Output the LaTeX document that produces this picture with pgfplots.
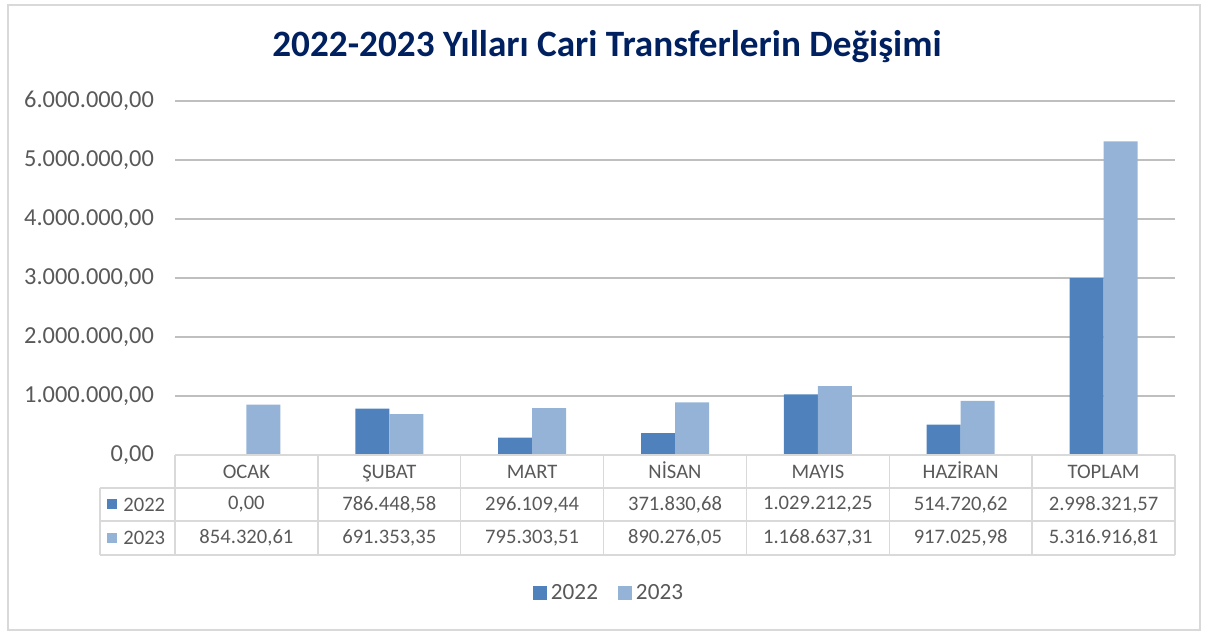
\documentclass[border=0pt]{standalone}
\usepackage{pgfplots}
\pgfplotsset{compat=1.18}
\usepackage{fontspec}
\setmainfont{Carlito}
\definecolor{cA}{HTML}{4F81BD}
\definecolor{cB}{HTML}{95B3D7}
\definecolor{grid}{HTML}{D9D9D9}
\definecolor{txt}{HTML}{595959}
\definecolor{ttl}{HTML}{002060}
\begin{document}
\begin{tikzpicture}
\begin{axis}[
  scale only axis, width=500pt, height=177pt,
  ymin=0, ymax=6000000, ytick={0,1000000,...,6000000},
  xmin=-0.5, xmax=6.5,
  ybar=0pt, bar width=17pt,
  axis line style={draw=none},
  major tick length=0pt,
  tick style={draw=none},
  xmajorgrids=false,
  ymajorgrids=true, grid style={grid, line width=0.7pt},
  clip=false,
  scaled y ticks=false,
  /pgf/number format/assume math mode=true,
  yticklabel={\pgfmathprintnumber[fixed, fixed zerofill, precision=2, use comma, 1000 sep={.}]{\tick}},
  yticklabel style={font=\fontsize{12.2}{14}\selectfont, text=txt, xshift=-7pt},
  xtick={0,...,6},
  xticklabels={OCAK,ŞUBAT,MART,NİSAN,MAYIS,HAZİRAN,TOPLAM},
  xticklabel style={font=\fontsize{10.3}{12}\selectfont, text=txt, anchor=base, text height=7pt, text depth=0pt, inner sep=0pt, yshift=-12pt},
  legend style={at={(rel axis cs:0.435,0)}, yshift=-69pt, anchor=center, draw=none, legend columns=2,
    font=\fontsize{11.6}{13}\selectfont, text=txt, /tikz/every even column/.append style={column sep=8pt}},
  legend image code/.code={\fill[#1] (0pt,-3.5pt) rectangle (7pt,3.5pt);},
]
\addplot[fill=cA, draw=none] coordinates {(0,0) (1,786448.58) (2,296109.44) (3,371830.68) (4,1029212.25) (5,514720.62) (6,2998321.57)};
\addplot[fill=cB, draw=none] coordinates {(0,854320.61) (1,691353.35) (2,795303.51) (3,890276.05) (4,1168637.31) (5,917025.98) (6,5316916.81)};
\legend{2022,2023}
% table grid
\draw[grid, line width=0.7pt] (rel axis cs:0,0) -- (rel axis cs:1,0);
\draw[grid, line width=0.7pt] ([xshift=-37.5pt,yshift=-16.5pt]rel axis cs:0,0) -- ([yshift=-16.5pt]rel axis cs:1,0);
\draw[grid, line width=0.7pt] ([xshift=-37.5pt,yshift=-33pt]rel axis cs:0,0) -- ([yshift=-33pt]rel axis cs:1,0);
\draw[grid, line width=0.7pt] ([xshift=-37.5pt,yshift=-50pt]rel axis cs:0,0) -- ([yshift=-50pt]rel axis cs:1,0);
\draw[grid, line width=0.7pt] ([xshift=-37.5pt,yshift=-16.5pt]rel axis cs:0,0) -- ([xshift=-37.5pt,yshift=-50pt]rel axis cs:0,0);
\pgfplotsinvokeforeach{-0.5,0.5,1.5,2.5,3.5,4.5,5.5,6.5}{
  \draw[grid, line width=0.7pt] (axis cs:#1,0) -- ([yshift=-50pt]axis cs:#1,0);
}
% row keys
\fill[cA] ([xshift=-34pt,yshift=-27.25pt]rel axis cs:0,0) rectangle ([xshift=-29pt,yshift=-22.25pt]rel axis cs:0,0);
\fill[cB] ([xshift=-34pt,yshift=-44pt]rel axis cs:0,0) rectangle ([xshift=-29pt,yshift=-39pt]rel axis cs:0,0);
\node[anchor=west, font=\fontsize{10.3}{12}\selectfont, text=txt, inner sep=0pt] at ([xshift=-26pt,yshift=-24.75pt]rel axis cs:0,0) {2022};
\node[anchor=west, font=\fontsize{10.3}{12}\selectfont, text=txt, inner sep=0pt] at ([xshift=-26pt,yshift=-41.5pt]rel axis cs:0,0) {2023};
% values
\begin{scope}[every node/.style={font=\fontsize{10.3}{12}\selectfont, text=txt, inner sep=0pt}]
\node at ([yshift=-24.75pt]axis cs:0,0) {0,00};
\node at ([yshift=-24.75pt]axis cs:1,0) {786.448,58};
\node at ([yshift=-24.75pt]axis cs:2,0) {296.109,44};
\node at ([yshift=-24.75pt]axis cs:3,0) {371.830,68};
\node at ([yshift=-24.75pt]axis cs:4,0) {1.029.212,25};
\node at ([yshift=-24.75pt]axis cs:5,0) {514.720,62};
\node at ([yshift=-24.75pt]axis cs:6,0) {2.998.321,57};
\node at ([yshift=-41.5pt]axis cs:0,0) {854.320,61};
\node at ([yshift=-41.5pt]axis cs:1,0) {691.353,35};
\node at ([yshift=-41.5pt]axis cs:2,0) {795.303,51};
\node at ([yshift=-41.5pt]axis cs:3,0) {890.276,05};
\node at ([yshift=-41.5pt]axis cs:4,0) {1.168.637,31};
\node at ([yshift=-41.5pt]axis cs:5,0) {917.025,98};
\node at ([yshift=-41.5pt]axis cs:6,0) {5.316.916,81};
\end{scope}
\node[font=\bfseries\fontsize{18.6}{22}\selectfont, text=ttl] at ([yshift=27pt]rel axis cs:0.432,1) {2022-2023 Yılları Cari Transferlerin Değişimi};
\end{axis}
\draw[grid, line width=0.8pt] ([xshift=-83.5pt,yshift=48pt]current axis.north west) rectangle ([xshift=12.5pt,yshift=-87.5pt]current axis.south east);
\path ([xshift=-87.5pt,yshift=50.5pt]current axis.north west) rectangle ([xshift=16.5pt,yshift=-90pt]current axis.south east);
\end{tikzpicture}
\end{document}
